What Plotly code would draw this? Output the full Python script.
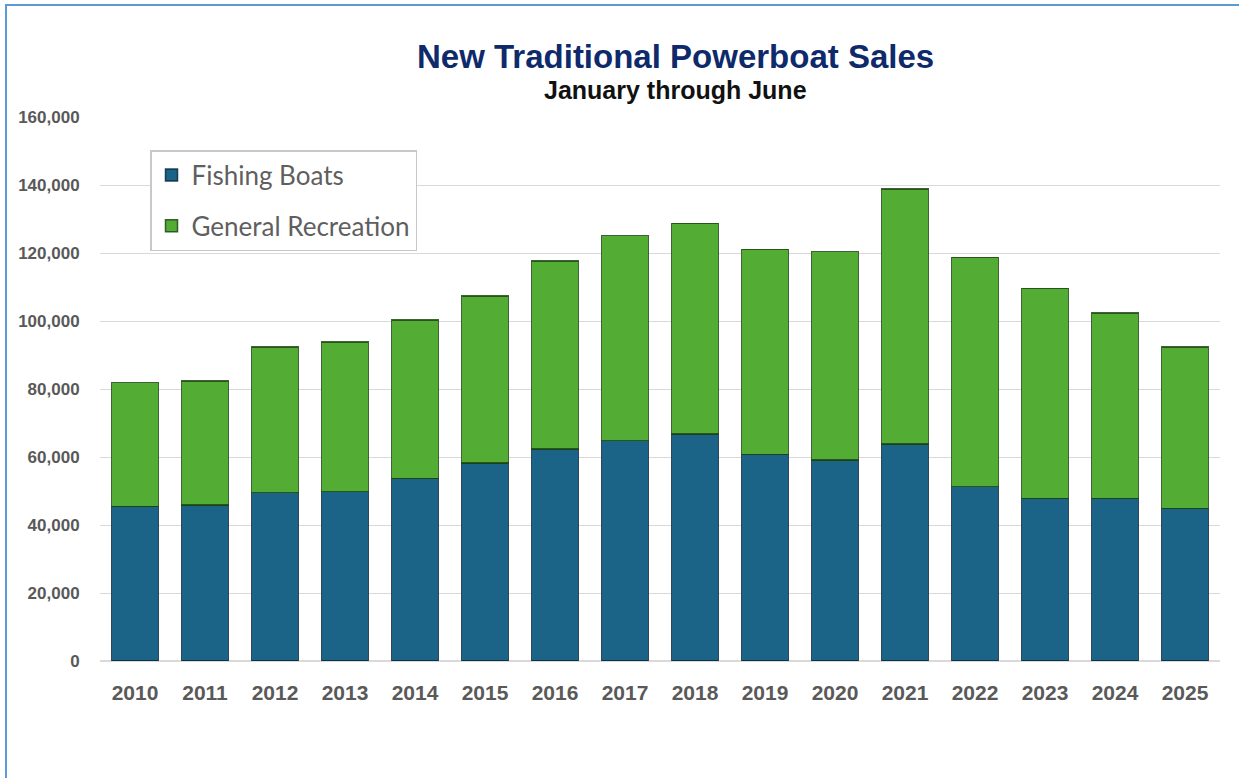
import plotly.graph_objects as go

years = ["2010", "2011", "2012", "2013", "2014", "2015", "2016", "2017",
         "2018", "2019", "2020", "2021", "2022", "2023", "2024", "2025"]
fishing = [45500, 45900, 49500, 49800, 53700, 58300, 62300, 64800,
           66700, 60800, 59100, 63800, 51300, 47800, 47800, 44900]
totals = [81900, 82400, 92400, 93800, 100300, 107400, 117600, 125100,
          128700, 121100, 120400, 138800, 118700, 109600, 102300, 92300]
general = [t - f for t, f in zip(totals, fishing)]
y_ticks = [0, 20000, 40000, 60000, 80000, 100000, 120000, 140000, 160000]
y_tick_text = ["0", "20,000", "40,000", "60,000", "80,000", "100,000",
               "120,000", "140,000", "160,000"]

W, H = 1239, 778
PL, PR, PT, PB = 100, 1220, 117, 661  # plot area in pixels
PW, PH = PR - PL, PB - PT


def px(x):
    return (x - PL) / PW


def py(y):
    return (PB - y) / PH


fig = go.Figure()
fig.add_trace(go.Bar(
    x=years, y=fishing, name="Fishing Boats", legendgroup="a",
    marker=dict(color="#1B6487", line=dict(color="rgba(10,40,60,0.85)", width=1.5)),
))
fig.add_trace(go.Bar(
    x=years, y=general, name="General Recreation", legendgroup="b",
    marker=dict(color="#53AC33", line=dict(color="rgba(30,70,20,0.85)", width=1.5)),
))

fig.update_layout(
    width=W, height=H,
    barmode="stack", bargap=0.33,
    paper_bgcolor="white", plot_bgcolor="white",
    margin=dict(l=PL, r=W - PR, t=PT, b=H - PB, autoexpand=False),
    font=dict(family="Liberation Sans, Arial, sans-serif", color="#595959"),
    legend=dict(
        x=px(150), y=py(150), xanchor="left", yanchor="top",
        bgcolor="white", bordercolor="#c8c8c8", borderwidth=1.5,
        font=dict(family="Lato, Open Sans, sans-serif", size=26, color="#5f5f5f"),
        traceorder="grouped", tracegroupgap=14,
    ),
    xaxis=dict(
        type="category", showgrid=False, showline=False, zeroline=False,
        ticks="outside", ticklen=13, tickcolor="rgba(0,0,0,0)",
        tickfont=dict(family="Liberation Sans, Arial, sans-serif", size=21,
                      color="#595959", weight="bold"),
    ),
    yaxis=dict(
        range=[0, 160000], tickvals=y_ticks, ticktext=y_tick_text,
        showgrid=True, gridcolor="#d9d9d9", gridwidth=1,
        zeroline=True, zerolinecolor="#d9d9d9", zerolinewidth=1.5,
        showline=False, ticks="outside", ticklen=16, tickcolor="rgba(0,0,0,0)",
        tickfont=dict(family="Liberation Sans, Arial, sans-serif", size=17,
                      color="#595959", weight="bold"),
    ),
    showlegend=True,
)

# Title and subtitle
fig.add_annotation(
    text="New Traditional Powerboat Sales", xref="paper", yref="paper",
    x=px(675), y=py(56), xanchor="center", yanchor="middle",
    showarrow=False,
    font=dict(family="Liberation Sans, Arial, sans-serif", size=33,
              color="#0E2A6B", weight="bold"),
)
fig.add_annotation(
    text="January through June", xref="paper", yref="paper",
    x=px(675), y=py(90), xanchor="center", yanchor="middle",
    showarrow=False,
    font=dict(family="Liberation Sans, Arial, sans-serif", size=25,
              color="#111111", weight="bold"),
)

# Outer frame (light blue) – visible on left and top
fig.add_shape(
    type="rect", xref="paper", yref="paper",
    x0=px(6), x1=px(1260), y0=py(800), y1=py(5),
    line=dict(color="#5B9BD5", width=2), fillcolor="rgba(0,0,0,0)",
    layer="below",
)

fig.write_html("out.html", config={"displayModeBar": False},
               post_script="document.body.style.margin='0px';")
